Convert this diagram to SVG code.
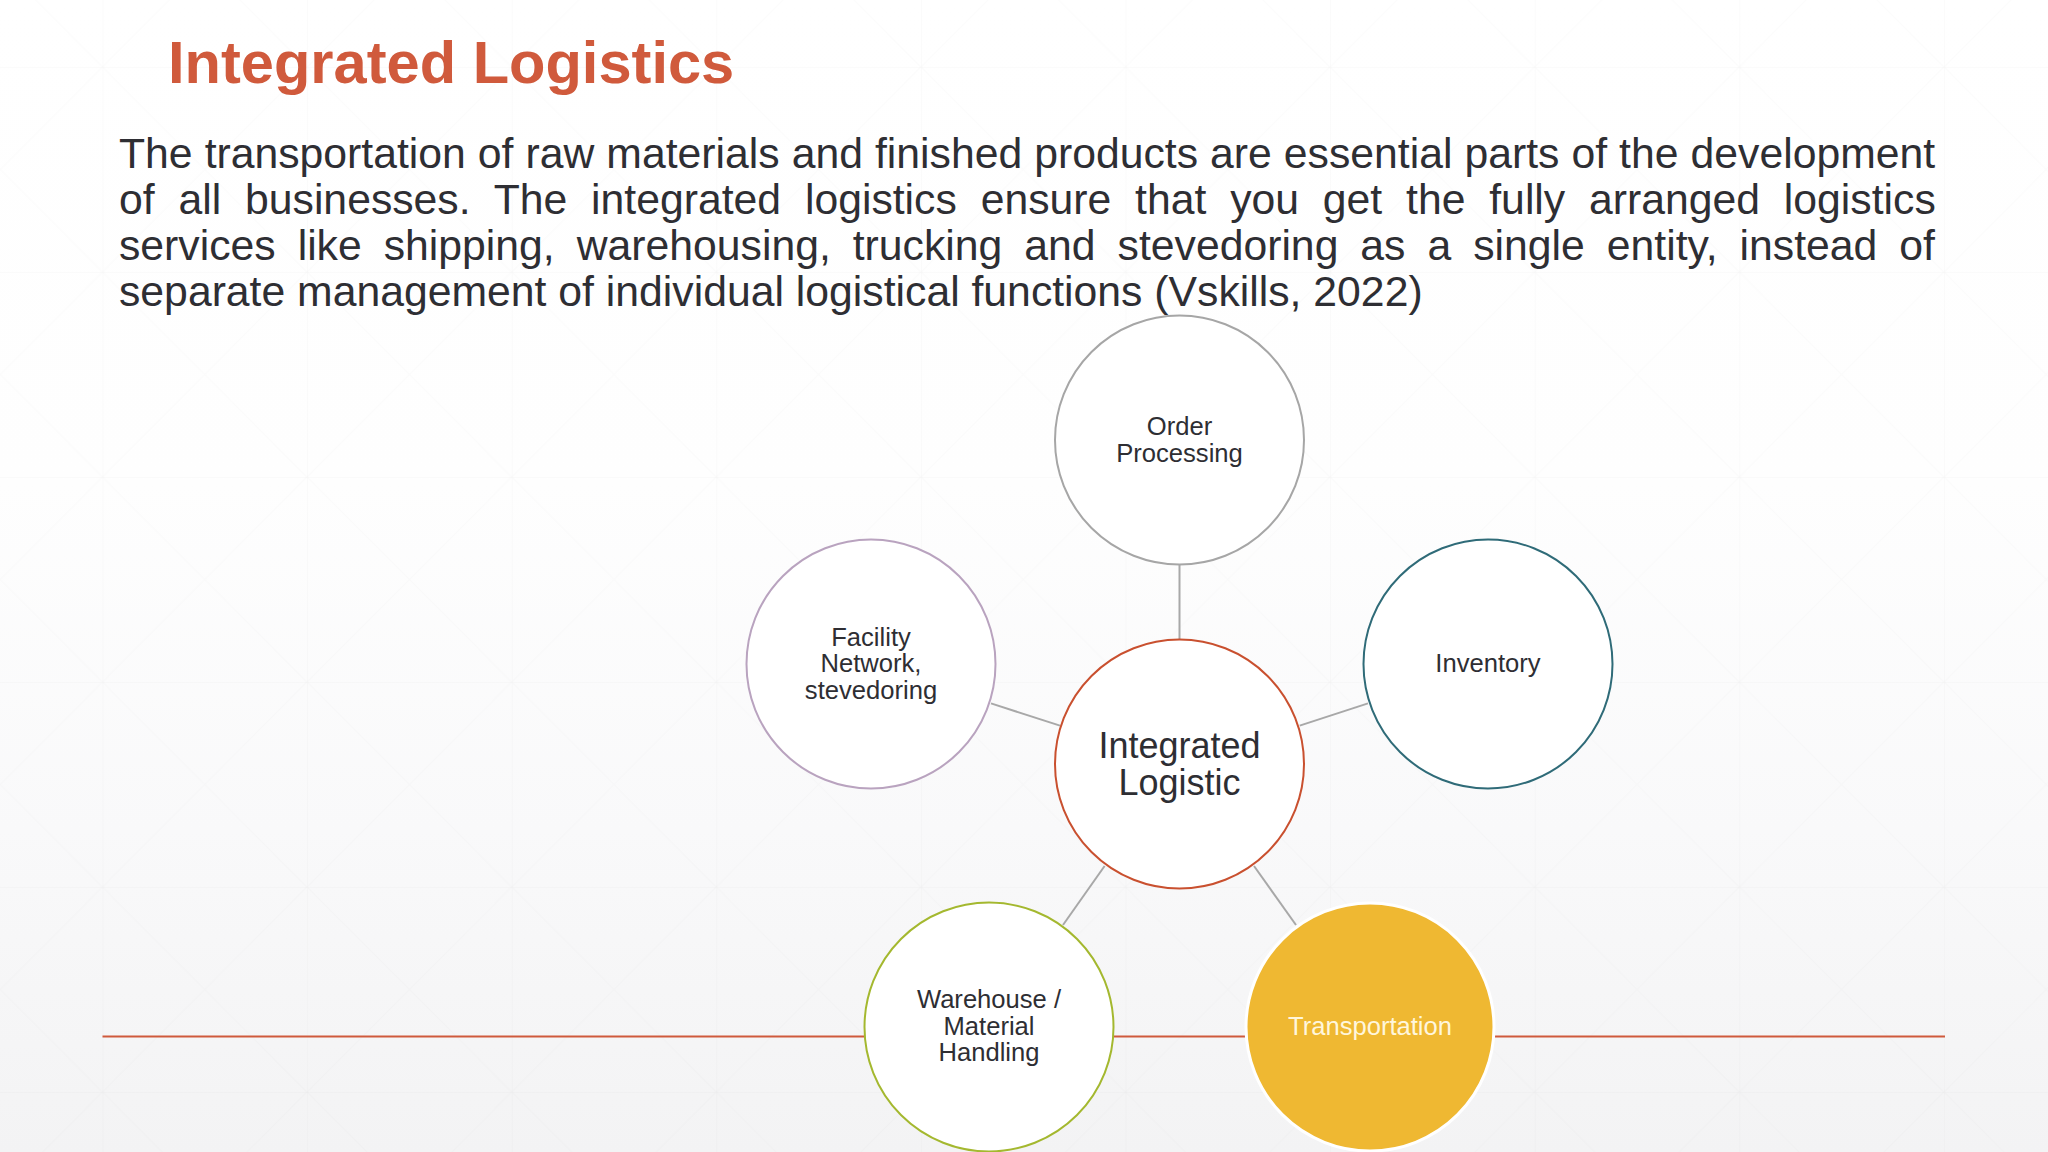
<svg xmlns="http://www.w3.org/2000/svg" width="2048" height="1152" viewBox="0 0 2048 1152">
  <style>
    text { font-family: "Liberation Sans", Arial, sans-serif; fill: #2e2e33; text-anchor: middle; }
    .title { font-size: 59.6px; font-weight: 700; fill: #d05a3c; text-anchor: start; }
    .body { font-size: 42.72px; text-anchor: start; }
    .small { font-size: 25.6px; }
    .big { font-size: 36px; }
    .conn { stroke: #a8a8a8; stroke-width: 2; fill: none; }
    .node { fill: #ffffff; stroke-width: 2; }
  </style>
  <defs>
    <linearGradient id="bg" x1="0" y1="0" x2="0" y2="1">
      <stop offset="0" stop-color="#ffffff"/>
      <stop offset="0.42" stop-color="#fefefe"/>
      <stop offset="0.72" stop-color="#f9f9fa"/>
      <stop offset="1" stop-color="#f3f3f4"/>
    </linearGradient>
    <pattern id="grid" patternUnits="userSpaceOnUse" x="102.5" y="67" width="204.6" height="205">
      <path d="M0 0H204.6M0 0V205" stroke="#000000" stroke-opacity="0.018" stroke-width="1.5" fill="none"/>
      <path d="M0 0L204.6 205M204.6 0L0 205" stroke="#000000" stroke-opacity="0.012" stroke-width="1.2" fill="none"/>
    </pattern>
  </defs>
  <rect id="background" width="2048" height="1152" fill="url(#bg)"/>
  <rect id="grid-overlay" width="2048" height="1152" fill="url(#grid)"/>
  <line id="rule" x1="102.5" y1="1036.5" x2="1945" y2="1036.5" stroke="#cf5a3c" stroke-width="2"/>
  <g id="heading">
    <text class="title" x="168" y="82.5">Integrated Logistics</text>
    <text class="body" x="119" y="167.6" word-spacing="0.15">The transportation of raw materials and finished products are essential parts of the development</text>
    <text class="body" x="119" y="213.6" word-spacing="11.95">of all businesses. The integrated logistics ensure that you get the fully arranged logistics</text>
    <text class="body" x="119" y="259.6" word-spacing="10.1">services like shipping, warehousing, trucking and stevedoring as a single entity, instead of</text>
    <text class="body" x="119" y="305.6">separate management of individual logistical functions (Vskills, 2022)</text>
  </g>
  <g id="connectors">
    <line class="conn" x1="1179.5" y1="565" x2="1179.5" y2="640"/>
    <line class="conn" x1="991" y1="703.4" x2="1060" y2="725.6"/>
    <line class="conn" x1="1299.7" y1="725.6" x2="1368" y2="703.4"/>
    <line class="conn" x1="1104.6" y1="866" x2="1063" y2="925"/>
    <line class="conn" x1="1254" y1="866" x2="1296" y2="925"/>
  </g>
  <g id="node-center">
    <circle class="node" cx="1179.5" cy="764" r="124.5" stroke="#c9502f"/>
    <text class="big" x="1179.5" y="757.5">Integrated</text>
    <text class="big" x="1179.5" y="794.5">Logistic</text>
  </g>
  <g id="node-order">
    <circle class="node" cx="1179.5" cy="440" r="124.5" stroke="#a6a6a6"/>
    <text class="small" x="1179.5" y="435">Order</text>
    <text class="small" x="1179.5" y="461.5">Processing</text>
  </g>
  <g id="node-facility">
    <circle class="node" cx="871" cy="664" r="124.5" stroke="#b9a3bf"/>
    <text class="small" x="871" y="646">Facility</text>
    <text class="small" x="871" y="672">Network,</text>
    <text class="small" x="871" y="698.5">stevedoring</text>
  </g>
  <g id="node-inventory">
    <circle class="node" cx="1488" cy="664" r="124.5" stroke="#2f6b78"/>
    <text class="small" x="1488" y="672">Inventory</text>
  </g>
  <g id="node-warehouse">
    <circle class="node" cx="989" cy="1027" r="124.5" stroke="#a4b82f"/>
    <text class="small" x="989" y="1008">Warehouse /</text>
    <text class="small" x="989" y="1034.5">Material</text>
    <text class="small" x="989" y="1061">Handling</text>
  </g>
  <g id="node-transportation">
    <circle cx="1370" cy="1027" r="124" fill="#efb832" stroke="#ffffff" stroke-width="3"/>
    <text class="small" x="1370" y="1035" style="fill:#fff6dc">Transportation</text>
  </g>
</svg>
